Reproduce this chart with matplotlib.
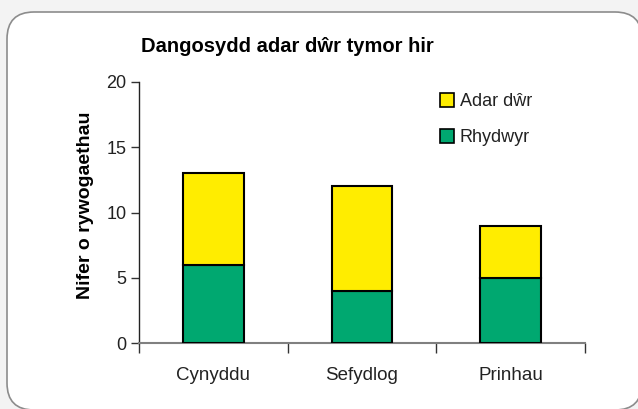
import matplotlib
matplotlib.use("Agg")
import matplotlib.pyplot as plt
from matplotlib.patches import FancyBboxPatch, Patch
from matplotlib.transforms import IdentityTransform

categories = ["Cynyddu", "Sefydlog", "Prinhau"]
rhydwyr = [6, 4, 5]
adar_dwr = [7, 8, 4]
series_names = ["Rhydwyr", "Adar dŵr"]
title = "Dangosydd adar dŵr tymor hir"
ylabel = "Nifer o rywogaethau"
yticks = [0, 5, 10, 15, 20]

green = "#00A870"
yellow = "#FFED00"

plt.rcParams['font.family'] = ['Liberation Sans', 'DejaVu Sans']

W, H = 638, 409
fig = plt.figure(figsize=(W / 100, H / 100), dpi=100)
fig.patch.set_facecolor("#f3f3f3")

box = FancyBboxPatch((7, -1), 635, 398, boxstyle="round,pad=0,rounding_size=27",
                     transform=IdentityTransform(), facecolor="white",
                     edgecolor="#8c8c8c", linewidth=1.2, zorder=-10)
fig.patches.append(box)

ax = fig.add_axes([139 / W, 1 - 343 / H, (585 - 139) / W, (343 - 82) / H])
ax.set_facecolor("none")
ax.set_zorder(2)

x = list(range(len(categories)))
ax.bar(x, rhydwyr, width=0.41, color=green, edgecolor="black", linewidth=1.5, zorder=3)
ax.bar(x, adar_dwr, bottom=rhydwyr, width=0.41, color=yellow, edgecolor="black",
       linewidth=1.5, zorder=3)

ax.set_xlim(-0.5, len(categories) - 0.5)
ax.set_ylim(0, 20)
ax.set_yticks(yticks)
ax.set_xticks(x)
ax.set_xticklabels(categories, fontsize=13.5, color="#222222")
ax.set_xticks([i - 0.5 for i in range(len(categories) + 1)], minor=True)
ax.tick_params(axis="x", which="major", length=0, pad=17)
ax.tick_params(axis="x", which="minor", length=7, width=1, color="#333333", direction="out")
ax.tick_params(axis="y", length=6, width=1, color="#333333", direction="out",
               labelsize=13, labelcolor="#222222", pad=3)

for s in ["top", "right"]:
    ax.spines[s].set_visible(False)
ax.spines["left"].set_color("#222222")
ax.spines["left"].set_linewidth(1.0)
ax.spines["bottom"].set_color("#808080")
ax.spines["bottom"].set_linewidth(1.5)

fig.text(287 / W, 1 - 47 / H, title, fontsize=14.5, fontweight="bold",
         ha="center", va="center")
fig.text(85 / W, 1 - 205 / H, ylabel, fontsize=14, fontweight="bold",
         rotation=90, ha="center", va="center")

handles = [Patch(facecolor=yellow, edgecolor="black", linewidth=1.2),
           Patch(facecolor=green, edgecolor="black", linewidth=1.2)]
leg = ax.legend(handles, [series_names[1], series_names[0]],
                loc="upper left", bbox_to_anchor=(440 / W, 1 - 93 / H),
                bbox_transform=fig.transFigure, frameon=False,
                handlelength=0.8, handleheight=0.8, handletextpad=0.3,
                labelspacing=1.05, fontsize=13, borderaxespad=0, borderpad=0)
for t in leg.get_texts():
    t.set_color("#222222")

fig.savefig("out.png", dpi=100, facecolor=fig.get_facecolor())
